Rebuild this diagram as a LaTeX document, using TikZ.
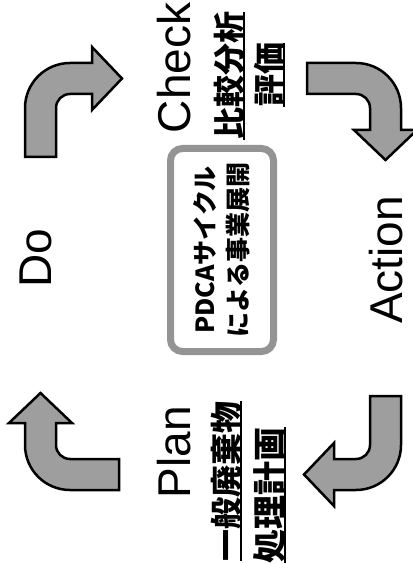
\documentclass[tikz,border=0pt]{standalone}
\usepackage{fontspec}
\setmainfont{Liberation Sans}
\newfontfamily\cjk{Noto Sans CJK JP}
\newcommand\thul[1]{\setbox0=\hbox{#1}\rlap{\rule[-4pt]{\wd0}{2pt}}\box0}
\tikzset{
  arrowsty/.style={fill=black!38, draw=black, line width=2.5pt, line join=miter},
  bent/.pic={\path[arrowsty] (-45,-49) -- (-45,0) arc[start angle=180,end angle=90,radius=45]
      -- (22,45) -- (22,61) -- (52,29.5) -- (22,-2) -- (22,14) -- (0,14)
      arc[start angle=90,end angle=180,radius=14] -- (-14,-49) -- cycle;},
  lbl/.style={rotate=90, inner sep=0pt, font=\fontsize{46}{50}\selectfont},
  jp/.style={rotate=90, anchor=base, inner sep=0pt, font=\cjk\bfseries\fontsize{32}{34}\selectfont},
  centrebox/.style={draw=black!42, line width=7pt, rounded corners=12pt, fill=white,
      rotate=90, minimum width=203pt, minimum height=103pt, inner sep=0pt, align=center,
      font=\cjk\bfseries\fontsize{25}{33}\selectfont}
}
\begin{document}
\begin{tikzpicture}[x=1pt,y=1pt]
\useasboundingbox (0,0) rectangle (412,-564);
\fill[white] (0,0) rectangle (412,-564);
% arrows
\pic at (70,-108) {bent};
\pic[rotate=-90] at (356,-108) {bent};
\pic[rotate=180] at (356,-445) {bent};
\pic[rotate=90] at (70,-445) {bent};
% labels
\node[lbl] (do) at (36,-258) {Do};
\node[lbl] (check) at (174,-68) {Check};
\node[lbl] (action) at (386,-260) {Action};
\node[lbl] (plan) at (174,-452) {Plan};
\node[jp] (cmp) at (241,-76) {\thul{比較分析}};
\node[jp] (ev) at (281,-75) {\thul{評価}};
\node[jp] (gen) at (238,-481) {\thul{一般廃棄物}};
\node[jp, font=\cjk\bfseries\fontsize{34}{36}\selectfont] (proc) at (282,-495) {\thul{処理計画}};
% centre box
\node[centrebox] (box) at (222,-250) {PDCAサイクル\\による事業展開};
\end{tikzpicture}
\end{document}
